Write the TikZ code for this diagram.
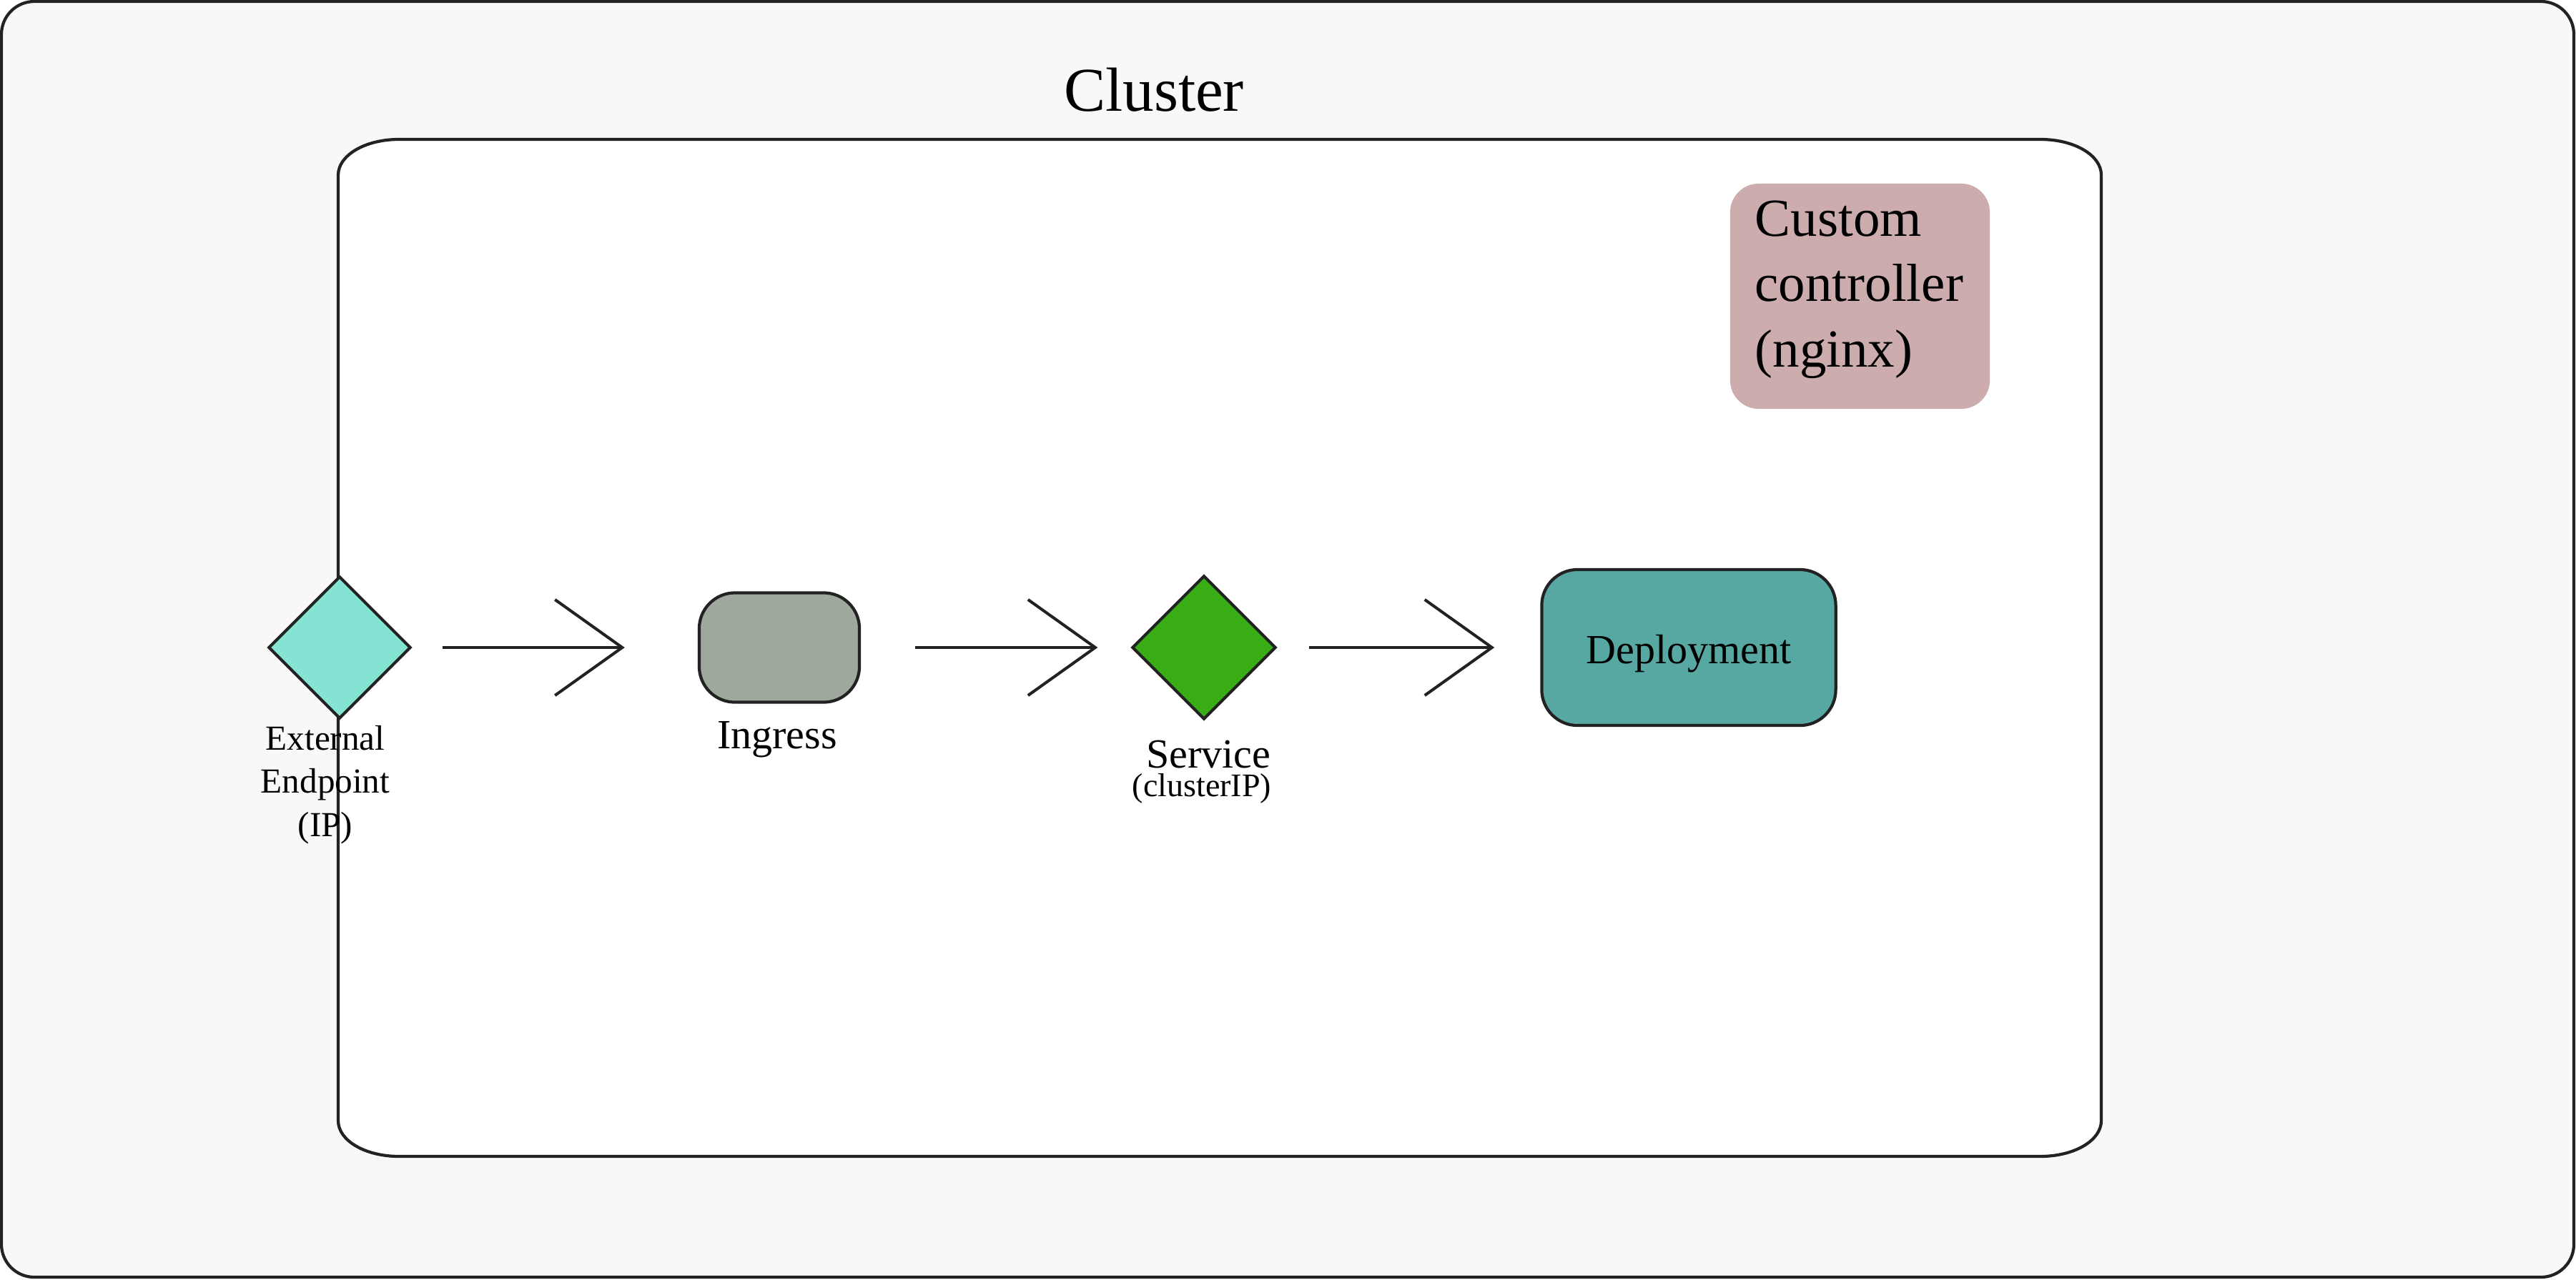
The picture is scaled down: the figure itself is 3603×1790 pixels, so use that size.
\documentclass[tikz,border=0pt]{standalone}
\usepackage{fontspec}
\setmainfont{Liberation Serif}
\usetikzlibrary{shapes.geometric,arrows.meta}
\definecolor{bgc}{HTML}{F8F8F8}
\definecolor{edgec}{HTML}{222222}
\definecolor{extc}{HTML}{84E3D3}
\definecolor{ingc}{HTML}{9EA89C}
\definecolor{svcc}{HTML}{38AD15}
\definecolor{depc}{HTML}{57A8A2}
\definecolor{ctrlc}{HTML}{CCACAD}
\begin{document}
\begin{tikzpicture}[x=0.01cm,y=-0.01cm,
  outline/.style={draw=edgec, line width=1.2pt},
  diam/.style={shape=diamond, aspect=1, draw=edgec, line width=1.15pt, inner sep=0pt, minimum width=1.99cm, minimum height=1.99cm},
  rbox/.style={draw=edgec, line width=1.2pt, rounded corners=0.5cm, inner sep=0pt},
  flow/.style={draw=edgec, line width=1.15pt, -{Straight Barb[length=0.94cm, width=1.34cm]}},
  lbl/.style={font=\fontsize{16.5}{19.8}\selectfont, inner sep=0pt, anchor=base},
  smalllbl/.style={font=\fontsize{13.1}{15.7}\selectfont, inner sep=0pt, anchor=base},
  extlblstyle/.style={font=\fontsize{14}{17.1}\selectfont, inner sep=0pt, anchor=base, align=center},
  titlestyle/.style={font=\fontsize{24.8}{29.8}\selectfont, inner sep=0pt, anchor=base},
  ctrlbox/.style={fill=ctrlc, rounded corners=0.4cm, inner sep=0pt},
  ctrltextstyle/.style={font=\fontsize{21.3}{25.9}\selectfont, inner sep=0pt, anchor=base west, align=left}]

\useasboundingbox (0,0) rectangle (3603,1790);

% outer cluster frame
\draw[outline, fill=bgc, rounded corners=0.46cm] (2,2) rectangle (3600,1787);

% inner area with elliptical corners
\draw[outline, fill=white]
  (558,195) -- (2854,195)
  .. controls (2901,195) and (2939,217) .. (2939,245)
  -- (2939,1568)
  .. controls (2939,1596) and (2901,1618) .. (2854,1618)
  -- (558,1618)
  .. controls (511,1618) and (473,1596) .. (473,1568)
  -- (473,245)
  .. controls (473,217) and (511,195) .. cycle;

\node[titlestyle] (title) at (1614,155) {Cluster};

% custom controller
\node[ctrlbox, minimum width=3.63cm, minimum height=3.15cm] (ctrl) at (2601.5,414.5) {};
\node[ctrltextstyle] (ctrltext) at (2454,513) {Custom\\controller\\(nginx)};

% flow nodes
\node[diam, fill=extc] (ext) at (475,906) {};
\node[rbox, fill=ingc, minimum width=2.24cm, minimum height=1.53cm] (ing) at (1090,906) {};
\node[diam, fill=svcc, minimum width=2.01cm, minimum height=2.01cm] (svc) at (1684,906) {};
\node[rbox, fill=depc, minimum width=4.11cm, minimum height=2.18cm,
      font=\fontsize{16.5}{19.8}\selectfont, text height=0.56cm, text depth=0.12cm] (dep) at (2362,906) {Deployment};

% labels
\node[extlblstyle] (extlbl) at (455,1170) {External\\Endpoint\\(IP)};
\node[lbl] (inglbl) at (1087,1047) {Ingress};
\node[lbl] (svclbl) at (1690,1074) {Service};
\node[smalllbl] (svcip) at (1681,1114) {(clusterIP)};

% connectors
\draw[flow, shorten <=0.42cm, shorten >=1.02cm] (ext.east) -- (ing.west);
\draw[flow, shorten <=0.76cm, shorten >=0.46cm] (ing.east) -- (svc.west);
\draw[flow, shorten <=0.44cm, shorten >=0.64cm] (svc.east) -- (dep.west);
\end{tikzpicture}
\end{document}
